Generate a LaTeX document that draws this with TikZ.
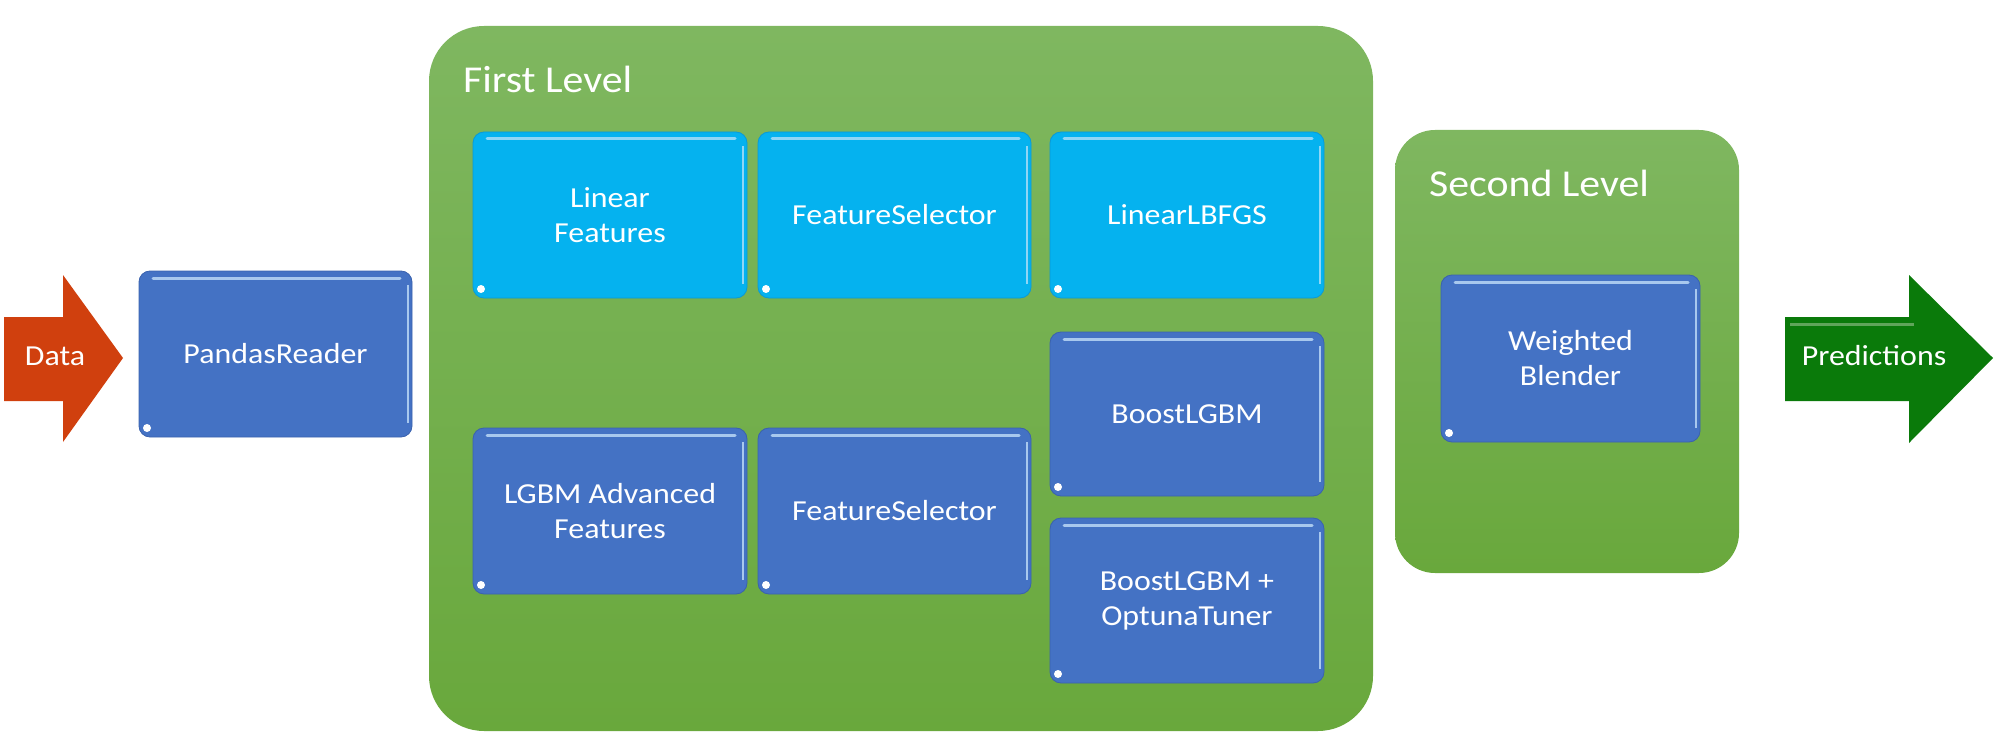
\documentclass[tikz,border=0pt]{standalone}
\usepackage{fontspec}
\setmainfont{Carlito}[FakeStretch=1.1]
\definecolor{bxblue}{HTML}{4472C4}
\definecolor{bxblueedge}{HTML}{3A62AE}
\definecolor{bxbluehl}{HTML}{A8C8EE}
\definecolor{bxcyan}{HTML}{05B2EF}
\definecolor{bxcyanedge}{HTML}{0A9AD8}
\definecolor{bxcyanhl}{HTML}{8FD6F6}
\definecolor{grntop}{HTML}{7FB760}
\definecolor{grnbot}{HTML}{69A83C}
\definecolor{dataarr}{HTML}{D0400E}
\definecolor{predarr}{HTML}{0A7A0A}
\definecolor{predhl}{HTML}{5FA55A}
\newcommand\mybxfont{\fontsize{29}{35}\selectfont}
\newcommand\myttlfont{\fontsize{38}{46}\selectfont}
\begin{document}
\begin{tikzpicture}[x=1pt,y=-1pt,
  glossy/.style={path picture={
    \draw[#1, line width=3pt, line cap=round]
      ([xshift=14pt,yshift=-7pt]path picture bounding box.north west) --
      ([xshift=-12pt,yshift=-7pt]path picture bounding box.north east);
    \draw[#1, line width=2pt]
      ([xshift=-4pt,yshift=-14pt]path picture bounding box.north east) --
      ([xshift=-4pt,yshift=14pt]path picture bounding box.south east);
    \fill[white] ([xshift=8pt,yshift=9pt]path picture bounding box.south west) circle (4pt);
  }},
  stage/.style={rounded corners=11pt, inner sep=0pt, minimum width=274pt,
    minimum height=166pt, text=white, align=center, font=\mybxfont, line width=0.8pt},
  bluebox/.style={stage, fill=bxblue, draw=bxblueedge, glossy=bxbluehl},
  cyanbox/.style={stage, fill=bxcyan, draw=bxcyanedge, glossy=bxcyanhl},
  level/.style={inner sep=0pt, top color=grntop, bottom color=grnbot, draw=none},
  ttl/.style={anchor=base west, inner sep=0pt, text=white, font=\myttlfont},
  arrtxt/.style={inner sep=0pt, text=white, font=\mybxfont}
]
\useasboundingbox (0,0) rectangle (2016,754);

% level containers
\node[level, rounded corners=55pt, minimum width=944pt, minimum height=705pt] (first) at (901,378.5) {};
\node[level, rounded corners=40pt, minimum width=344pt, minimum height=443pt] (second) at (1567,351.5) {};
\node[ttl] (firstttl) at (463,93) {First Level};
\node[ttl] (secondttl) at (1429,197) {Second Level};

% arrows
\fill[dataarr] (4,317) -- (63,317) -- (63,275) -- (123,358) -- (63,442) -- (63,401) -- (4,401) -- cycle;
\node[arrtxt] (data) at (55,356) {Data};
\fill[predarr] (1785,317) -- (1909,317) -- (1909,275) -- (1993,358) -- (1909,443) -- (1909,401) -- (1785,401) -- cycle;
\draw[predhl, line width=3pt] (1790,324) -- (1914,324);
\node[arrtxt] (pred) at (1874,356) {Predictions};

% stages
\node[bluebox, minimum width=273pt] (reader) at (275.5,354) {PandasReader};
\node[cyanbox] (linfeat) at (610,215) {Linear\\Features};
\node[cyanbox, minimum width=273pt] (fsel1) at (894.5,215) {FeatureSelector};
\node[cyanbox] (lbfgs) at (1187,215) {LinearLBFGS};
\node[bluebox, minimum height=164pt] (lgbm) at (1187,414) {BoostLGBM};
\node[bluebox, minimum height=165pt] (optuna) at (1187,600.5) {BoostLGBM +\\OptunaTuner};
\node[bluebox] (advfeat) at (610,511) {LGBM Advanced\\Features};
\node[bluebox, minimum width=273pt] (fsel2) at (894.5,511) {FeatureSelector};
\node[bluebox, minimum width=259pt, minimum height=167pt] (blender) at (1570.5,358.5) {Weighted\\Blender};
\end{tikzpicture}
\end{document}
